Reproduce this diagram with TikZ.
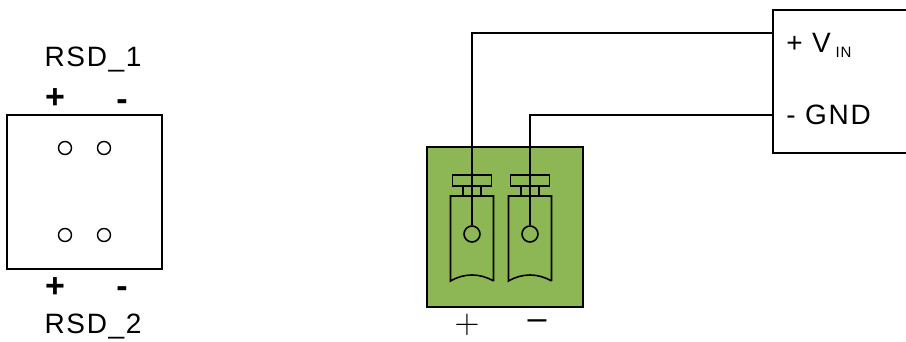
\documentclass[tikz,border=0pt]{standalone}
\usepackage{fontspec}
\setmainfont{Liberation Sans}[LetterSpace=6]
\definecolor{termgreen}{RGB}{140,183,84}
\tikzset{
  wire/.style={line width=1pt},
  frame/.style={line width=0.8pt},
  hole/.style={draw, circle, inner sep=0pt, minimum size=6.5pt, line width=0.7pt},
  pin/.style={draw, circle, fill=termgreen, inner sep=0pt, minimum size=8pt, line width=0.8pt},
  lbl/.style={font=\fontsize{14}{16}\selectfont},
  sign/.style={font=\fontsize{17}{19}\selectfont\bfseries},
}
\begin{document}
\begin{tikzpicture}[x=0.5pt, y=0.5pt, yscale=-1]
    \useasboundingbox (0,0) rectangle (906,342);

    % RSD box
    \draw[frame] (7,115) rectangle (162,269);
    \node[hole] (h1p) at (65,148) {};
    \node[hole] (h1n) at (104,148) {};
    \node[hole] (h2p) at (65,235) {};
    \node[hole] (h2n) at (104,235) {};

    % RSD labels
    \node[lbl, anchor=base] (rsd1) at (93,67) {RSD\_1};
    \node[sign, anchor=base] (rsd1p) at (55,109) {+};
    \node[sign, anchor=base] (rsd1n) at (122,111) {-};
    \node[sign, anchor=base] (rsd2p) at (55,298) {+};
    \node[sign, anchor=base] (rsd2n) at (122,298) {-};
    \node[lbl, anchor=base] (rsd2) at (93,333) {RSD\_2};

    % Terminal block
    \filldraw[frame, fill=termgreen] (427,147) rectangle (583,307);
    \foreach \x/\n in {472/termP, 530/termN} {
        \draw[frame] (\x-19.5,175) rectangle (\x+19.5,186);
        \draw[frame] (\x-9,186) -- (\x-9,196) (\x+9,186) -- (\x+9,196);
        \draw[frame] (\x+21.5,281) -- (\x+21.5,196) -- (\x-21.5,196) -- (\x-21.5,281)
            .. controls (\x-8,273) and (\x+8,273) .. (\x+21.5,281);
        \node[pin] (\n) at (\x,234) {};
    }
    \node[font=\fontsize{19}{21}\selectfont] (plus) at (467,325) {$+$};
    \node[font=\fontsize{17}{19}\selectfont] (minus) at (537,325) {–};

    % Input box
    \draw[frame] (906,10) -- (773,10) -- (773,153) -- (906,153);
    \coordinate (vin) at (773,33);
    \coordinate (gnd) at (773,115);
    \node[lbl, anchor=base west, inner sep=0pt] (vinlbl) at (786,53)
        {+ V\,\raisebox{-2.5pt}{\fontsize{7.5}{8}\selectfont IN}};
    \node[lbl, anchor=base west, inner sep=0pt] (gndlbl) at (786,125) {- GND};

    % Wires
    \draw[wire] (termP.north) |- (vin);
    \draw[wire] (termN.north) |- (gnd);

\end{tikzpicture}
\end{document}
